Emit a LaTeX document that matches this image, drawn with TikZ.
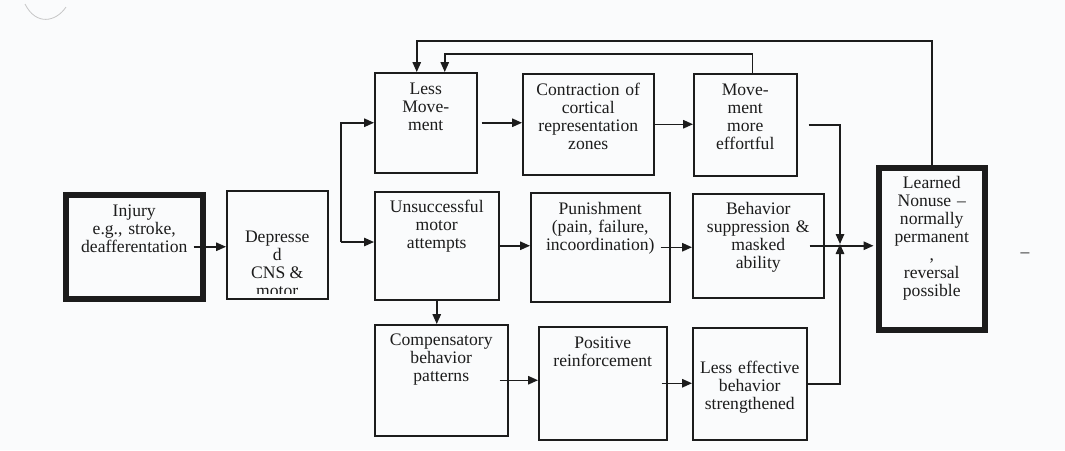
\documentclass[tikz,border=0pt]{standalone}
\usepackage{fontspec}
\setmainfont{Liberation Serif}
\usepackage{tikz}
\usetikzlibrary{arrows.meta,calc}
\definecolor{ink}{HTML}{1C1C1C}
\definecolor{paper}{HTML}{FAFBFC}
\tikzset{
  blk/.style={draw=ink, line width=1.5pt, inner sep=0pt, anchor=north west, align=center, text=ink},
  heavy/.style={blk, line width=5.5pt},
  flow/.style={draw=ink, line width=1.5pt, -{Triangle[length=10pt,width=8.5pt]}},
}

\begin{document}
\begin{tikzpicture}[x=1pt,y=-1pt,font=\fontsize{17.6}{18}\selectfont]
\fill[paper] (0,0) rectangle (1065,450);
\useasboundingbox (0,0) rectangle (1065,450);
\draw[gray!45, line width=0.8pt] (25,4) .. controls (36,26) and (56,22) .. (66,7);

\node[heavy, text width=137pt, text height=22pt, text depth=82pt] (inj) at (63,192) {Injury\\e.g., stroke,\\deafferentation};
\node[blk, minimum width=101pt, minimum height=108pt,
  path picture={\clip ([yshift=5pt]path picture bounding box.south west) rectangle (path picture bounding box.north east);
    \node[anchor=north, align=center, inner sep=0pt, minimum width=0pt, minimum height=0pt, text=ink] (deptxt) at ([yshift=-39pt]path picture bounding box.north) {Depresse\\d\\CNS \&\\motor};}] (dep) at (226,190) {};
\node[blk, text width=102pt, text height=22pt, text depth=78pt] (lm) at (374,72) {Less\\Move-\\ment};
\node[blk, text width=131pt, text height=22pt, text depth=79pt] (con) at (522,73) {Contraction of\\cortical\\representation\\zones};
\node[blk, text width=103pt, text height=22pt, text depth=80pt] (mme) at (693,73) {Move-\\ment\\more\\effortful};
\node[blk, text width=124pt, text height=21pt, text depth=87pt] (uns) at (374,191) {Unsuccessful\\motor\\attempts};
\node[blk, text width=139pt, text height=22pt, text depth=87pt] (pun) at (530,192) {Punishment\\(pain, failure,\\incoordination)};
\node[blk, text width=131pt, text height=21pt, text depth=83pt] (beh) at (692,193) {Behavior\\suppression \&\\masked\\ability};
\node[blk, text width=133pt, text height=21pt, text depth=90pt] (comp) at (374,324) {Compensatory\\behavior\\patterns};
\node[blk, text width=128pt, text height=22pt, text depth=91pt] (pos) at (538,326) {Positive\\reinforcement};
\node[blk, text width=114pt, text height=46pt, text depth=66pt] (lee) at (692,327) {Less effective\\behavior\\strengthened};
\node[heavy, text width=106pt, text height=21pt, text depth=141pt] (lrn) at (876,165) {Learned\\Nonuse --\\normally\\permanent\\,\\reversal\\possible};
\node[text=ink] (dash) at (1025,255) {--};

\coordinate (fork) at (341,242);
\coordinate (join) at (840,244);

\draw[flow] ([xshift=-12pt]inj.east) -- (inj.east -| dep.west);
\draw[flow] (fork) |- (lm.west);
\draw[flow] (fork) -- (fork -| uns.west);
\draw[flow] ([xshift=4pt]lm.east) -- (lm.east -| con.west);
\draw[flow] (con.east) -- (con.east -| mme.west);
\draw[flow] ([xshift=11pt]mme.east) -| (join);
\draw[flow] (lee.east) -| (join);
\draw[flow, shorten >=2.5pt] ([xshift=-15pt]beh.east) -- (beh.east -| lrn.west);
\draw[flow] (uns.south) -- (uns.south |- comp.north);
\draw[flow] (uns.east) -- (uns.east -| pun.west);
\draw[flow] ([xshift=-10pt]pun.east) -- (pun.east -| beh.west);
\draw[flow] ([xshift=-9pt]comp.east) -- (comp.east -| pos.west);
\draw[flow] ([xshift=-6pt]pos.east) -- (pos.east -| lee.west);
\draw[flow] (lrn.north) -- ++(0,-124) -| ([xshift=-9pt]lm.north);
\draw[flow] ([xshift=7pt]mme.north) -- ++(0,-19) -| ([xshift=19pt]lm.north);
\end{tikzpicture}
\end{document}
